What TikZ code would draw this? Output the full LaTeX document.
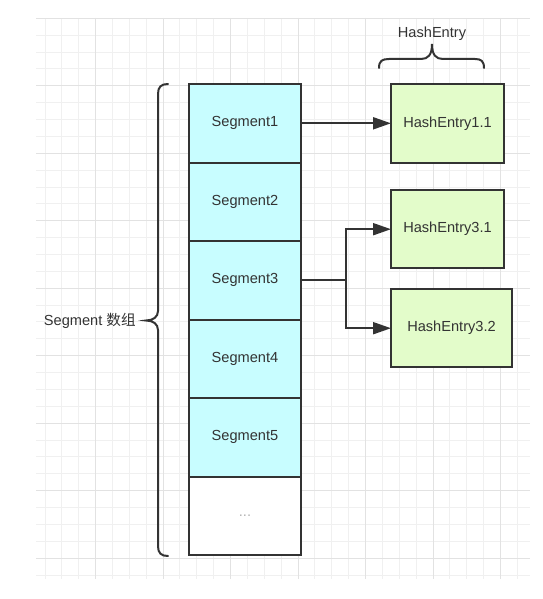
\documentclass[tikz,border=0pt]{standalone}
\usepackage{fontspec}
\setmainfont{Liberation Sans}
\newfontfamily\cjk{Noto Sans CJK SC}
\usetikzlibrary{arrows.meta,positioning}
\definecolor{segfill}{HTML}{C8FDFF}
\definecolor{entryfill}{HTML}{E3FCCA}
\definecolor{inkgray}{HTML}{333333}
\definecolor{gridminor}{HTML}{F0F0F0}
\definecolor{gridmajor}{HTML}{E2E2E2}
\tikzset{outer sep=0pt}

\begin{document}
\begin{tikzpicture}[x=1pt,y=-1pt,
            label font/.style={font=\fontsize{14.6}{16}\selectfont,text=inkgray},
            segbox/.style={draw=inkgray,line width=2pt,fill=segfill,minimum width=112pt,minimum height=78.5pt,inner sep=0pt,label font},
            entrybox/.style={draw=inkgray,line width=2pt,fill=entryfill,minimum width=113pt,minimum height=78.5pt,inner sep=0pt,label font},
            link/.style={draw=inkgray,line width=2pt,-{Triangle[length=18pt,width=12pt]}},
            brace line/.style={draw=inkgray,line width=2pt,line cap=round}
            ]
            \useasboundingbox (0,0) rectangle (542,599);
            \begin{scope}
                \clip (36,18) rectangle (530,579);
                \foreach \i in {0,...,28}
                    \draw[gridminor,line width=1pt] ({45+16.87*\i},18) -- ({45+16.87*\i},579);
                \foreach \j in {0,...,33}
                    \draw[gridminor,line width=1pt] (36,{18.3+16.87*\j}) -- (530,{18.3+16.87*\j});
                \foreach \i in {3,7,...,27}
                    \draw[gridmajor,line width=1pt] ({45+16.87*\i},18) -- ({45+16.87*\i},579);
                \foreach \j in {0,4,...,32}
                    \draw[gridmajor,line width=1pt] (36,{18.3+16.87*\j}) -- (530,{18.3+16.87*\j});
            \end{scope}

            \node[segbox] (seg1) at (245,123.3) {Segment1};
            \node[segbox,below=0pt of seg1] (seg2) {Segment2};
            \node[segbox,below=0pt of seg2] (seg3) {Segment3};
            \node[segbox,below=0pt of seg3] (seg4) {Segment4};
            \node[segbox,below=0pt of seg4] (seg5) {Segment5};
            \node[segbox,below=0pt of seg5,fill=white,text=gray!60] (seg6) {...};

            \node[entrybox] (he11) at (447.5,123.3) {HashEntry1.1};
            \node[entrybox] (he31) at (447.5,229.2) {HashEntry3.1};
            \node[entrybox,minimum width=121pt] (he32) at (451.5,328.2) {HashEntry3.2};

            \coordinate (split) at (346,0 |- seg3.east);
            \draw[link] (seg1.east) -- (he11.west);
            \draw[draw=inkgray,line width=2pt] (seg3.east) -- (split);
            \draw[link] (split) |- (he31.west);
            \draw[link] (split) |- (he32.west);

            \draw[brace line] (168,84) .. controls (161,84) and (158,87) .. (158,94) -- (158,311)
                .. controls (158,317) and (153,320.5) .. (146,320.5)
                .. controls (153,320.5) and (158,324) .. (158,330) -- (158,546)
                .. controls (158,553) and (161,556) .. (168,556);
            \node[label font,anchor=east] (segarray) at (139,321) {Segment {\cjk 数组}};

            \draw[brace line] (379,68) .. controls (379,61) and (382,59) .. (389,59) -- (421,59)
                .. controls (428,59) and (432,55) .. (432,44)
                .. controls (432,55) and (436,59) .. (443,59) -- (475,59)
                .. controls (481,59) and (484,61) .. (484,68);
            \node[label font] (entrylabel) at (432,34) {HashEntry};
        \end{tikzpicture}
\end{document}
